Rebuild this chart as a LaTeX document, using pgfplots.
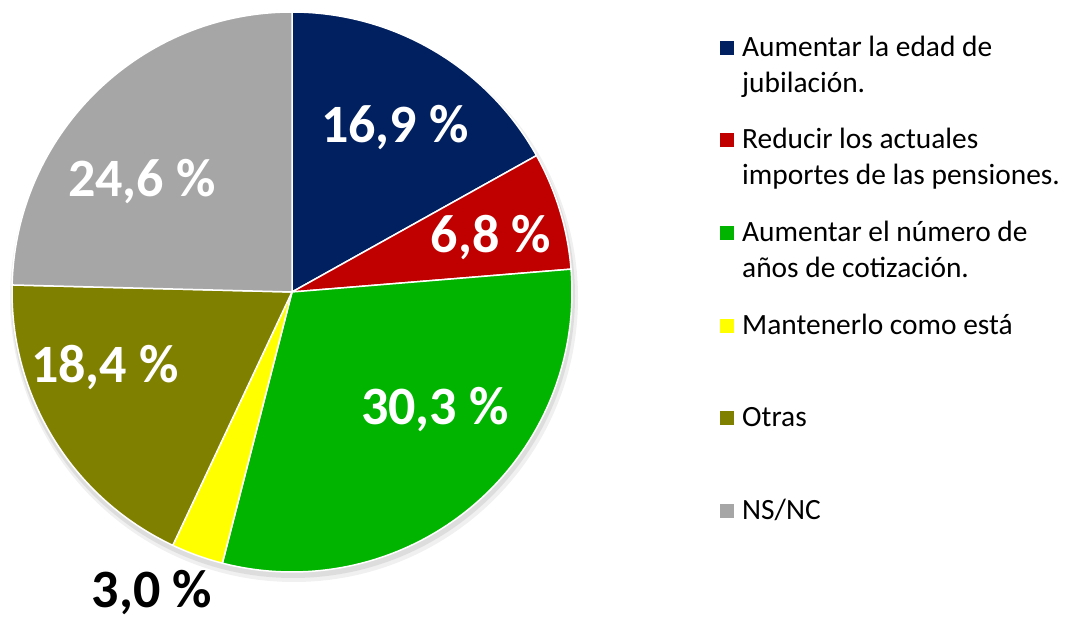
\documentclass[border=0pt]{standalone}
\usepackage{pgfplots}
\pgfplotsset{compat=1.18}
\usepackage{pgfplotstable}
\usepackage{fontspec}
\setmainfont{Carlito}
\definecolor{c0}{RGB}{0,32,96}
\definecolor{c1}{RGB}{192,0,0}
\definecolor{c2}{RGB}{0,180,0}
\definecolor{c3}{RGB}{255,255,0}
\definecolor{c4}{RGB}{128,128,0}
\definecolor{c5}{RGB}{166,166,166}
\pgfplotstableread{
idx value lab lx ly
0 16.9 16,9 395 495
1 6.8 6,8 491 385
2 30.3 30,3 435 213
3 3.0 3,0 152 30
4 18.4 18,4 105 255
5 24.6 24,6 142 441
}\piedata
\begin{document}
\begin{tikzpicture}
% precompute cumulative angles from the data
\def\cum{90}
\pgfplotsforeachungrouped \i in {0,...,5}{%
  \pgfplotstablegetelem{\i}{value}\of\piedata
  \pgfmathsetmacro\endang{\cum-3.6*\pgfplotsretval}%
  \expandafter\xdef\csname angS\i\endcsname{\cum}%
  \expandafter\xdef\csname angE\i\endcsname{\endang}%
  \xdef\cum{\endang}%
  \pgfplotstablegetelem{\i}{lx}\of\piedata
  \expandafter\xdef\csname lx\i\endcsname{\pgfplotsretval}%
  \pgfplotstablegetelem{\i}{ly}\of\piedata
  \expandafter\xdef\csname ly\i\endcsname{\pgfplotsretval}%
  \pgfplotstablegetelem{\i}{lab}\of\piedata
  \expandafter\xdef\csname lab\i\endcsname{\pgfplotsretval}%
}
\begin{axis}[
  x=1pt, y=1pt,
  xmin=0, xmax=1066, ymin=0, ymax=623,
  hide axis, clip=false,
]
\path (axis cs:0,0) rectangle (axis cs:1066,623);
% shadow
\fill[black, opacity=0.06] (axis cs:294,325) circle[radius=284pt];
\fill[black, opacity=0.08] (axis cs:293,327) circle[radius=282pt];
\fill[white] (axis cs:292,331) circle[radius=280pt];
\pgfplotsinvokeforeach{0,...,5}{
  \fill[c#1, draw=white, line width=1.5pt, line join=round]
    (axis cs:292,331) -- ++(\csname angS#1\endcsname:280pt)
    arc[start angle=\csname angS#1\endcsname, end angle=\csname angE#1\endcsname, radius=280pt] -- cycle;
}
\pgfplotsinvokeforeach{0,1,2,4,5}{
  \node[inner sep=0pt, text=white, font=\bfseries\fontsize{54}{60}\selectfont] at (axis cs:\csname lx#1\endcsname,\csname ly#1\endcsname) {\csname lab#1\endcsname{} \%};
}
\node[inner sep=0pt, text=black, font=\bfseries\fontsize{54}{60}\selectfont] at (axis cs:\csname lx3\endcsname,\csname ly3\endcsname) {\csname lab3\endcsname{} \%};
% legend
\fill[c0] (axis cs:720,582) rectangle (axis cs:734,568);
\fill[c1] (axis cs:720,490) rectangle (axis cs:734,476);
\fill[c2] (axis cs:720,397) rectangle (axis cs:734,383);
\fill[c3] (axis cs:720,304) rectangle (axis cs:734,290);
\fill[c4] (axis cs:720,212) rectangle (axis cs:734,198);
\fill[c5] (axis cs:720,119) rectangle (axis cs:734,105);
\begin{scope}[every node/.style={anchor=base west, inner sep=0pt, font=\fontsize{29.4}{36}\selectfont}]
\node at (axis cs:742,566) {Aumentar la edad de};
\node at (axis cs:742,530) {jubilación.};
\node at (axis cs:742,474) {Reducir los actuales};
\node at (axis cs:742,438) {importes de las pensiones.};
\node at (axis cs:742,381) {Aumentar el número de};
\node at (axis cs:742,345) {años de cotización.};
\node at (axis cs:742,288) {Mantenerlo como está};
\node at (axis cs:742,196) {Otras};
\node at (axis cs:742,103) {NS/NC};
\end{scope}
\end{axis}
\end{tikzpicture}
\end{document}
